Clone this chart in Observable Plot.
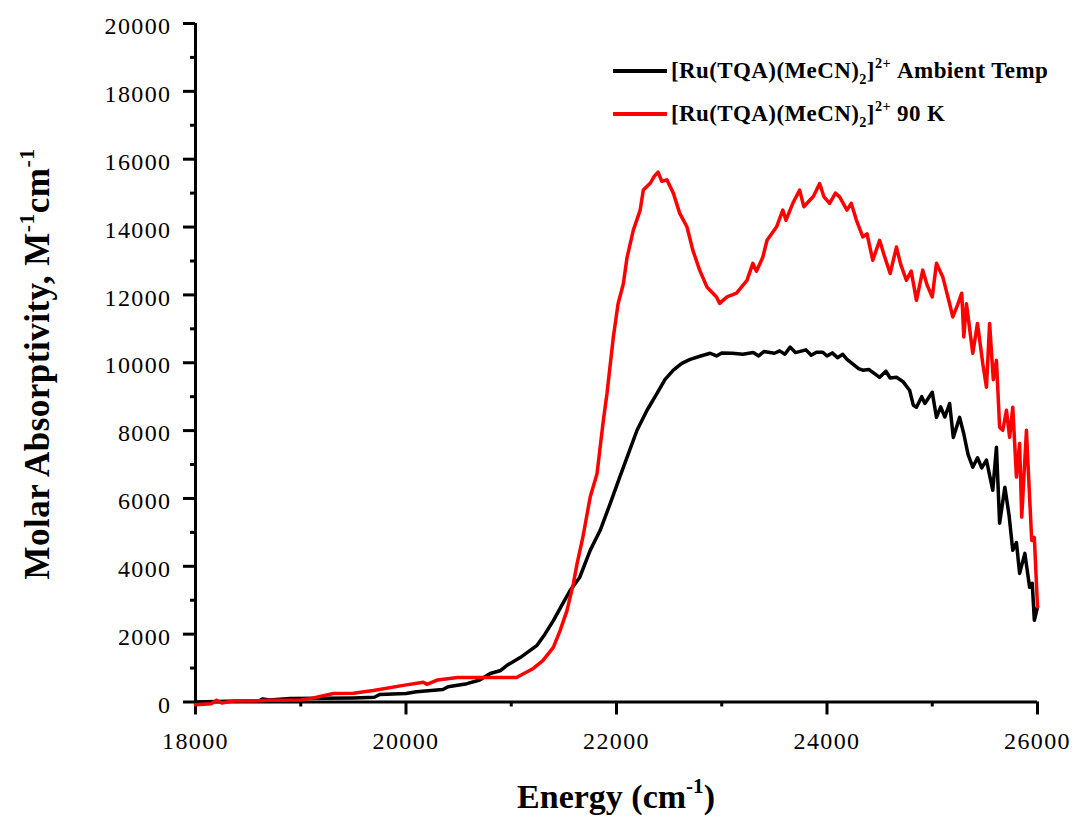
<!DOCTYPE html>
<html>
<head>
<meta charset="utf-8">
<script src="https://cdn.jsdelivr.net/npm/d3@7"></script>
<script src="https://cdn.jsdelivr.net/npm/@observablehq/plot@0.6"></script>
<style>
  html, body { margin: 0; padding: 0; background: white; }
  #wrap { position: relative; width: 1074px; height: 819px; font-family: "Liberation Serif", "Times New Roman", serif; color: black; }
  .ttl { position: absolute; font-weight: bold; white-space: nowrap; }
  .sup { font-size: 62%; vertical-align: 0.7em; line-height: 0; }
  .sub { font-size: 62%; vertical-align: -0.45em; line-height: 0; }
  .leg { position: absolute; left: 613px; height: 30px; white-space: nowrap; }
  .leg .sw { position: absolute; left: 0; top: 13px; width: 54px; height: 4px; }
  .leg .tx { position: absolute; left: 58px; top: 0; font-weight: bold; font-size: 23px; line-height: 30px; letter-spacing: 0.4px; }
</style>
</head>
<body>
<div id="wrap"></div>
<script>
// Ambient temperature series
const ambientEnergy = [18000,18300,18600,18640,18700,18900,19200,19500,19700,19750,20000,20100,20350,20400,20580,20700,20800,20900,20960,21085,21245,21320,21400,21480,21560,21650,21750,21845,21940,22030,22100,22195,22290,22385,22460,22540,22620,22700,22800,22890,22950,23000,23100,23200,23300,23350,23400,23500,23550,23600,23650,23700,23800,23850,23900,23960,24000,24050,24100,24150,24190,24250,24300,24340,24400,24500,24560,24600,24660,24720,24785,24820,24850,24900,24930,25000,25040,25080,25120,25165,25200,25260,25300,25340,25385,25430,25470,25515,25575,25610,25640,25690,25730,25765,25800,25830,25880,25925,25950,25970,26000];
const ambientAbs = [0,20,30,90,60,100,110,120,140,220,250,300,370,450,540,650,840,930,1080,1310,1670,2000,2400,2850,3290,3670,4470,5060,5850,6620,7210,8010,8600,9100,9500,9780,9980,10100,10200,10280,10200,10290,10280,10250,10300,10200,10330,10280,10350,10250,10460,10300,10380,10220,10310,10310,10200,10290,10150,10250,10100,9950,9830,9780,9800,9570,9750,9550,9570,9450,9190,8750,8690,9000,8800,9130,8390,8700,8400,8800,7800,8390,7900,7300,6920,7200,6900,7130,6240,7510,5270,6330,5500,4470,4700,3790,4380,3380,3500,2410,2800];

// 90 K series
const coldEnergy = [18000,18150,18200,18250,18360,18600,18700,19000,19090,19310,19500,19690,19975,20165,20200,20300,20490,20800,21050,21085,21210,21300,21400,21465,21530,21590,21625,21680,21750,21815,21845,21875,21910,21970,22015,22065,22100,22160,22225,22255,22320,22360,22395,22430,22480,22540,22600,22670,22725,22790,22860,22900,22950,22980,23050,23140,23240,23295,23330,23390,23430,23520,23580,23610,23675,23740,23780,23810,23870,23930,23970,24025,24080,24120,24190,24230,24280,24340,24380,24435,24500,24540,24600,24660,24700,24755,24800,24850,24910,24950,25000,25040,25100,25165,25195,25240,25280,25300,25325,25385,25430,25480,25515,25545,25580,25610,25640,25670,25705,25735,25765,25800,25830,25850,25895,25905,25945,25970,26000];
const coldAbs = [-80,-50,50,-30,30,40,50,60,100,250,260,340,490,580,520,650,720,720,720,780,990,1220,1610,2110,2700,3490,4070,4850,6040,6730,7520,8300,9100,10760,11740,12330,13100,13910,14500,15090,15290,15500,15620,15350,15390,15000,14410,14000,13320,12730,12230,12100,11940,11750,11940,12050,12430,12930,12700,13110,13610,14000,14500,14200,14700,15090,14600,14700,14900,15280,14900,14700,15000,14890,14500,14700,14200,13710,13800,13020,13610,13200,12630,13410,12900,12430,12700,11840,12730,12300,11940,12930,12530,11740,11350,11700,12050,10760,11740,10280,11160,9980,9280,11160,9500,10070,8100,8010,8600,7800,8690,6630,7620,5450,8010,7320,4760,4850,2800];

const xMajor = [18000, 20000, 22000, 24000, 26000];
const xMinor = [19000, 21000, 23000, 25000];
const yMajor = [0,2000,4000,6000,8000,10000,12000,14000,16000,18000,20000];
const yMinor = [1000,3000,5000,7000,9000,11000,13000,15000,17000,19000];

const ambient = ambientEnergy.map((x, i) => ({x, y: ambientAbs[i]}));
const cold = coldEnergy.map((x, i) => ({x, y: coldAbs[i]}));

const chart = Plot.plot({
  width: 1074,
  height: 819,
  marginLeft: 195,
  marginRight: 37,
  marginTop: 23,
  marginBottom: 117.5,
  x: {domain: [18000, 26000]},
  y: {domain: [0, 20000]},
  style: {fontFamily: "'Liberation Serif', 'Times New Roman', serif", fontSize: "24px", fontWeight: "normal", letterSpacing: "1.4px", color: "black", background: "white"},
  marks: [
    // tick lines (no text)
    Plot.axisY({ticks: yMajor, tickSize: 12, strokeWidth: 3, tickFormat: () => "", label: null}),
    Plot.axisY({ticks: yMinor, tickSize: 5, strokeWidth: 3, tickFormat: () => "", label: null}),
    Plot.axisX({ticks: xMajor, tickSize: 13, strokeWidth: 3, tickFormat: () => "", label: null}),
    Plot.axisX({ticks: xMinor, tickSize: 5, strokeWidth: 3, tickFormat: () => "", label: null}),
    // tick labels (no lines)
    Plot.axisY({ticks: yMajor, tickSize: 0, tickPadding: 24, tickFormat: d => String(d), label: null, fontSize: 24, dy: 3}),
    Plot.axisX({ticks: xMajor, tickSize: 0, tickPadding: 30, tickFormat: d => String(d), label: null, fontSize: 24}),
    Plot.ruleX([18000], {strokeWidth: 3}),
    Plot.ruleY([0], {strokeWidth: 3}),
    Plot.line(ambient, {x: "x", y: "y", stroke: "black", strokeWidth: 3.5}),
    Plot.line(cold, {x: "x", y: "y", stroke: "#ff0000", strokeWidth: 3.5})
  ]
});

const wrap = document.getElementById("wrap");
wrap.appendChild(chart);

wrap.insertAdjacentHTML("beforeend", `
  <div class="leg" style="top:56px"><div class="sw" style="background:black"></div><span class="tx">[Ru(TQA)(MeCN)<span class="sub">2</span>]<span class="sup">2+</span>&nbsp;Ambient Temp</span></div>
  <div class="leg" style="top:99px"><div class="sw" style="background:#ff0000"></div><span class="tx">[Ru(TQA)(MeCN)<span class="sub">2</span>]<span class="sup">2+</span>&nbsp;90 K</span></div>
  <div class="ttl" style="left:616px; top:797px; transform:translate(-50%,-50%); font-size:34px;">Energy (cm<span class="sup">-1</span>)</div>
  <div class="ttl" style="left:38px; top:364px; transform:translate(-50%,-50%) rotate(-90deg); font-size:35px; letter-spacing:0.5px;">Molar Absorptivity, M<span class="sup">-1</span>cm<span class="sup">-1</span></div>
`);
</script>
</body>
</html>
